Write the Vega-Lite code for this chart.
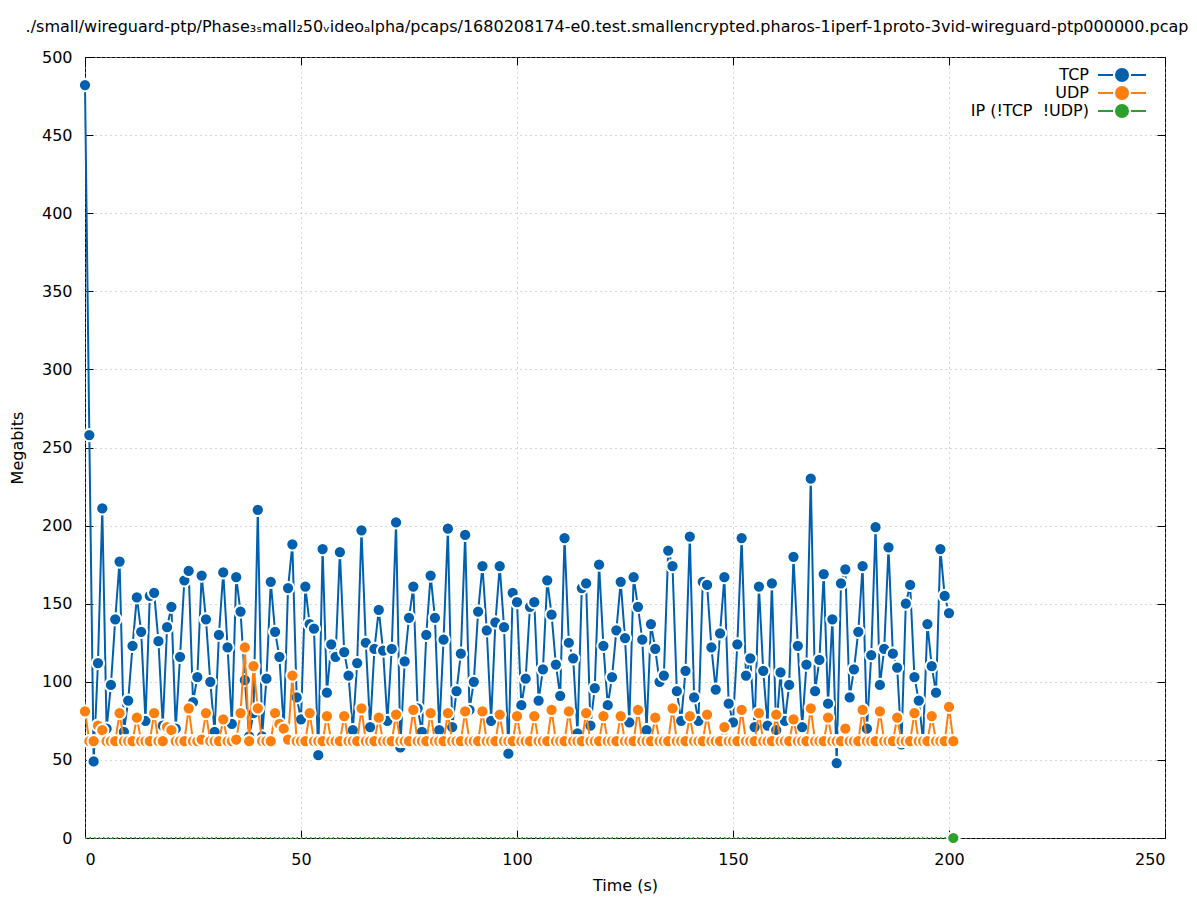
{
  "$schema": "https://vega.github.io/schema/vega-lite/v6.json",
  "width": 1080,
  "height": 781,
  "autosize": {"type": "none"},
  "padding": {"left": 85, "top": 57, "right": 32, "bottom": 62},
  "background": "white",
  "title": {
    "text": "./small/wireguard-ptp/Phase₃ₛmall₂50ᵥideoₐlpha/pcaps/1680208174-e0.test.smallencrypted.pharos-1iperf-1proto-3vid-wireguard-ptp000000.pcap",
    "font": "DejaVu Sans", "fontSize": 16, "fontWeight": "normal", "color": "black",
    "anchor": "middle", "frame": "group", "baseline": "alphabetic", "offset": 1, "dx": -18
  },
  "datasets": {
    "tcp": [
      {"t":0,"v":482},{"t":1,"v":258},{"t":2,"v":49},{"t":3,"v":112},{"t":4,"v":211},{"t":5,"v":70},{"t":6,"v":98},{"t":7,"v":140},{"t":8,"v":177},{"t":9,"v":68},
      {"t":10,"v":88},{"t":11,"v":123},{"t":12,"v":154},{"t":13,"v":132},{"t":14,"v":75},{"t":15,"v":155},{"t":16,"v":157},{"t":17,"v":126},{"t":18,"v":72},{"t":19,"v":135},
      {"t":20,"v":148},{"t":21,"v":70},{"t":22,"v":116},{"t":23,"v":165},{"t":24,"v":171},{"t":25,"v":87},{"t":26,"v":103},{"t":27,"v":168},{"t":28,"v":140},{"t":29,"v":100},
      {"t":30,"v":68},{"t":31,"v":130},{"t":32,"v":170},{"t":33,"v":122},{"t":34,"v":73},{"t":35,"v":167},{"t":36,"v":145},{"t":37,"v":101},{"t":38,"v":65},{"t":39,"v":80},
      {"t":40,"v":210},{"t":41,"v":65},{"t":42,"v":102},{"t":43,"v":164},{"t":44,"v":132},{"t":45,"v":116},{"t":46,"v":70},{"t":47,"v":160},{"t":48,"v":188},{"t":49,"v":90},
      {"t":50,"v":76},{"t":51,"v":161},{"t":52,"v":137},{"t":53,"v":134},{"t":54,"v":53},{"t":55,"v":185},{"t":56,"v":93},{"t":57,"v":124},{"t":58,"v":116},{"t":59,"v":183},
      {"t":60,"v":119},{"t":61,"v":104},{"t":62,"v":69},{"t":63,"v":112},{"t":64,"v":197},{"t":65,"v":125},{"t":66,"v":71},{"t":67,"v":121},{"t":68,"v":146},{"t":69,"v":120},
      {"t":70,"v":75},{"t":71,"v":121},{"t":72,"v":202},{"t":73,"v":58},{"t":74,"v":113},{"t":75,"v":141},{"t":76,"v":161},{"t":77,"v":83},{"t":78,"v":68},{"t":79,"v":130},
      {"t":80,"v":168},{"t":81,"v":141},{"t":82,"v":69},{"t":83,"v":127},{"t":84,"v":198},{"t":85,"v":71},{"t":86,"v":94},{"t":87,"v":118},{"t":88,"v":194},{"t":89,"v":82},
      {"t":90,"v":100},{"t":91,"v":145},{"t":92,"v":174},{"t":93,"v":133},{"t":94,"v":75},{"t":95,"v":138},{"t":96,"v":174},{"t":97,"v":135},{"t":98,"v":54},{"t":99,"v":157},
      {"t":100,"v":151},{"t":101,"v":85},{"t":102,"v":102},{"t":103,"v":148},{"t":104,"v":151},{"t":105,"v":88},{"t":106,"v":108},{"t":107,"v":165},{"t":108,"v":143},{"t":109,"v":111},
      {"t":110,"v":91},{"t":111,"v":192},{"t":112,"v":125},{"t":113,"v":115},{"t":114,"v":67},{"t":115,"v":160},{"t":116,"v":163},{"t":117,"v":72},{"t":118,"v":96},{"t":119,"v":175},
      {"t":120,"v":123},{"t":121,"v":85},{"t":122,"v":103},{"t":123,"v":133},{"t":124,"v":164},{"t":125,"v":128},{"t":126,"v":74},{"t":127,"v":167},{"t":128,"v":148},{"t":129,"v":127},
      {"t":130,"v":69},{"t":131,"v":137},{"t":132,"v":121},{"t":133,"v":100},{"t":134,"v":104},{"t":135,"v":184},{"t":136,"v":174},{"t":137,"v":94},{"t":138,"v":75},{"t":139,"v":107},
      {"t":140,"v":193},{"t":141,"v":90},{"t":142,"v":75},{"t":143,"v":164},{"t":144,"v":162},{"t":145,"v":122},{"t":146,"v":95},{"t":147,"v":131},{"t":148,"v":167},{"t":149,"v":86},
      {"t":150,"v":74},{"t":151,"v":124},{"t":152,"v":192},{"t":153,"v":104},{"t":154,"v":115},{"t":155,"v":71},{"t":156,"v":161},{"t":157,"v":107},{"t":158,"v":72},{"t":159,"v":163},
      {"t":160,"v":69},{"t":161,"v":106},{"t":162,"v":75},{"t":163,"v":98},{"t":164,"v":180},{"t":165,"v":123},{"t":166,"v":71},{"t":167,"v":111},{"t":168,"v":230},{"t":169,"v":94},
      {"t":170,"v":114},{"t":171,"v":169},{"t":172,"v":86},{"t":173,"v":140},{"t":174,"v":48},{"t":175,"v":163},{"t":176,"v":172},{"t":177,"v":90},{"t":178,"v":108},{"t":179,"v":132},
      {"t":180,"v":174},{"t":181,"v":70},{"t":182,"v":117},{"t":183,"v":199},{"t":184,"v":98},{"t":185,"v":121},{"t":186,"v":186},{"t":187,"v":118},{"t":188,"v":109},{"t":189,"v":60},
      {"t":190,"v":150},{"t":191,"v":162},{"t":192,"v":103},{"t":193,"v":88},{"t":194,"v":62},{"t":195,"v":137},{"t":196,"v":110},{"t":197,"v":93},{"t":198,"v":185},{"t":199,"v":155},
      {"t":200,"v":144}
    ],
    "udp": [
      {"t":0,"v":81},{"t":1,"v":62},{"t":2,"v":62},{"t":3,"v":72},{"t":4,"v":69},{"t":5,"v":62},{"t":6,"v":62},{"t":7,"v":62},{"t":8,"v":80},{"t":9,"v":62},
      {"t":10,"v":62},{"t":11,"v":62},{"t":12,"v":77},{"t":13,"v":62},{"t":14,"v":62},{"t":15,"v":62},{"t":16,"v":80},{"t":17,"v":62},{"t":18,"v":62},{"t":19,"v":71},
      {"t":20,"v":69},{"t":21,"v":62},{"t":22,"v":62},{"t":23,"v":62},{"t":24,"v":83},{"t":25,"v":62},{"t":26,"v":62},{"t":27,"v":63},{"t":28,"v":80},{"t":29,"v":62},
      {"t":30,"v":62},{"t":31,"v":62},{"t":32,"v":76},{"t":33,"v":62},{"t":34,"v":62},{"t":35,"v":63},{"t":36,"v":80},{"t":37,"v":122},{"t":38,"v":62},{"t":39,"v":110},
      {"t":40,"v":83},{"t":41,"v":62},{"t":42,"v":62},{"t":43,"v":62},{"t":44,"v":80},{"t":45,"v":73},{"t":46,"v":70},{"t":47,"v":63},{"t":48,"v":104},{"t":49,"v":62},
      {"t":50,"v":62},{"t":51,"v":62},{"t":52,"v":80},{"t":53,"v":62},{"t":54,"v":62},{"t":55,"v":62},{"t":56,"v":78},{"t":57,"v":62},{"t":58,"v":62},{"t":59,"v":62},
      {"t":60,"v":78},{"t":61,"v":62},{"t":62,"v":62},{"t":63,"v":62},{"t":64,"v":83},{"t":65,"v":62},{"t":66,"v":62},{"t":67,"v":62},{"t":68,"v":77},{"t":69,"v":62},
      {"t":70,"v":62},{"t":71,"v":62},{"t":72,"v":79},{"t":73,"v":62},{"t":74,"v":62},{"t":75,"v":62},{"t":76,"v":82},{"t":77,"v":62},{"t":78,"v":62},{"t":79,"v":62},
      {"t":80,"v":80},{"t":81,"v":62},{"t":82,"v":62},{"t":83,"v":62},{"t":84,"v":80},{"t":85,"v":62},{"t":86,"v":62},{"t":87,"v":62},{"t":88,"v":81},{"t":89,"v":62},
      {"t":90,"v":62},{"t":91,"v":62},{"t":92,"v":81},{"t":93,"v":62},{"t":94,"v":62},{"t":95,"v":62},{"t":96,"v":79},{"t":97,"v":62},{"t":98,"v":62},{"t":99,"v":62},
      {"t":100,"v":78},{"t":101,"v":62},{"t":102,"v":62},{"t":103,"v":62},{"t":104,"v":78},{"t":105,"v":62},{"t":106,"v":62},{"t":107,"v":62},{"t":108,"v":82},{"t":109,"v":62},
      {"t":110,"v":62},{"t":111,"v":62},{"t":112,"v":81},{"t":113,"v":62},{"t":114,"v":62},{"t":115,"v":62},{"t":116,"v":80},{"t":117,"v":62},{"t":118,"v":62},{"t":119,"v":62},
      {"t":120,"v":78},{"t":121,"v":62},{"t":122,"v":62},{"t":123,"v":62},{"t":124,"v":78},{"t":125,"v":62},{"t":126,"v":62},{"t":127,"v":62},{"t":128,"v":82},{"t":129,"v":62},
      {"t":130,"v":62},{"t":131,"v":62},{"t":132,"v":77},{"t":133,"v":62},{"t":134,"v":62},{"t":135,"v":62},{"t":136,"v":83},{"t":137,"v":62},{"t":138,"v":62},{"t":139,"v":62},
      {"t":140,"v":78},{"t":141,"v":62},{"t":142,"v":62},{"t":143,"v":62},{"t":144,"v":79},{"t":145,"v":62},{"t":146,"v":62},{"t":147,"v":62},{"t":148,"v":71},{"t":149,"v":62},
      {"t":150,"v":62},{"t":151,"v":62},{"t":152,"v":82},{"t":153,"v":62},{"t":154,"v":62},{"t":155,"v":62},{"t":156,"v":80},{"t":157,"v":62},{"t":158,"v":62},{"t":159,"v":62},
      {"t":160,"v":79},{"t":161,"v":62},{"t":162,"v":62},{"t":163,"v":62},{"t":164,"v":76},{"t":165,"v":62},{"t":166,"v":62},{"t":167,"v":62},{"t":168,"v":83},{"t":169,"v":62},
      {"t":170,"v":62},{"t":171,"v":62},{"t":172,"v":77},{"t":173,"v":62},{"t":174,"v":62},{"t":175,"v":62},{"t":176,"v":70},{"t":177,"v":62},{"t":178,"v":62},{"t":179,"v":62},
      {"t":180,"v":82},{"t":181,"v":62},{"t":182,"v":62},{"t":183,"v":62},{"t":184,"v":81},{"t":185,"v":62},{"t":186,"v":62},{"t":187,"v":62},{"t":188,"v":77},{"t":189,"v":62},
      {"t":190,"v":62},{"t":191,"v":62},{"t":192,"v":80},{"t":193,"v":62},{"t":194,"v":62},{"t":195,"v":62},{"t":196,"v":78},{"t":197,"v":62},{"t":198,"v":62},{"t":199,"v":62},
      {"t":200,"v":84},{"t":201,"v":62}
    ],
    "ipline": [
      {"t":0,"v":0},{"t":201,"v":0}
    ],
    "ip": [
      {"t":201,"v":0}
    ]
  },
  "encoding": {
    "x": {"field": "t", "type": "quantitative", "scale": {"domain": [0, 250], "nice": false, "zero": false}, "axis": null},
    "y": {"field": "v", "type": "quantitative", "scale": {"domain": [0, 500], "nice": false}, "axis": null},
    "color": {
      "datum": "TCP", "type": "nominal",
      "scale": {"domain": ["TCP", "UDP", "IP (!TCP \u00a0!UDP)"], "range": ["#0060ad", "#ff7f0e", "#2ca02c"]},
      "legend": {
        "title": null, "orient": "none", "legendX": 1029, "legendY": 10, "padding": 0,
        "labelAlign": "right", "labelOffset": -41, "labelFont": "DejaVu Sans", "labelFontSize": 16, "labelColor": "black",
        "symbolType": "M-4,0H-1.5M1.5,0H4M-1,0A1,1,0,1,1,1,0A1,1,0,1,1,-1,0Z",
        "symbolSize": 144, "symbolStrokeWidth": 2, "rowPadding": -2,
        "encode": {"symbols": {"update": {"fill": {"scale": "color", "field": "value"}, "stroke": {"scale": "color", "field": "value"}, "opacity": {"value": 1}}}}
      }
    }
  },
  "layer": [
    {
      "data": {"name": "tcp"},
      "mark": {"type": "line", "strokeWidth": 2},
      "encoding": {
        "x": {"field": "t", "type": "quantitative", "title": "Time (s)",
          "axis": {"orient": "bottom", "values": [0, 50, 100, 150, 200, 250], "grid": true, "gridColor": "#b0b0b0", "gridDash": [1, 4], "gridWidth": 1,
            "domain": false, "tickSize": -8, "tickColor": "black", "labelPadding": 21, "labelFont": "DejaVu Sans", "labelFontSize": 16, "labelColor": "black",
            "titleFont": "DejaVu Sans", "titleFontSize": 16, "titleFontWeight": "normal", "titleColor": "black", "titlePadding": 10}},
        "y": {"field": "v", "type": "quantitative", "title": "Megabits",
          "axis": {"orient": "left", "values": [0, 50, 100, 150, 200, 250, 300, 350, 400, 450, 500], "grid": true, "gridColor": "#b0b0b0", "gridDash": [1, 4], "gridWidth": 1,
            "domain": false, "tickSize": -8, "tickColor": "black", "labelPadding": 21, "labelFont": "DejaVu Sans", "labelFontSize": 16, "labelColor": "black",
            "titleFont": "DejaVu Sans", "titleFontSize": 16, "titleFontWeight": "normal", "titleColor": "black", "titlePadding": 16}}
      }
    },
    {
      "data": {"name": "tcp"},
      "mark": {"type": "point", "filled": true, "size": 150, "stroke": "white", "strokeWidth": 2, "opacity": 1},
      "encoding": {}
    },
    {
      "data": {"name": "udp"},
      "mark": {"type": "line", "strokeWidth": 2},
      "encoding": {"color": {"datum": "UDP", "type": "nominal"}}
    },
    {
      "data": {"name": "udp"},
      "mark": {"type": "point", "filled": true, "size": 150, "stroke": "white", "strokeWidth": 2, "opacity": 1},
      "encoding": {"color": {"datum": "UDP", "type": "nominal"}}
    },
    {
      "data": {"name": "ipline"},
      "mark": {"type": "line", "strokeWidth": 2, "strokeDash": [1.5, 3]},
      "encoding": {"color": {"datum": "IP (!TCP \u00a0!UDP)", "type": "nominal"}}
    },
    {
      "data": {"name": "ip"},
      "mark": {"type": "point", "filled": true, "size": 150, "stroke": "white", "strokeWidth": 2, "opacity": 1},
      "encoding": {"color": {"datum": "IP (!TCP \u00a0!UDP)", "type": "nominal"}}
    },
    {
      "data": {"name": "ip"},
      "mark": {"type": "point", "opacity": 0},
      "encoding": {
        "x": {"field": "t", "type": "quantitative",
          "axis": {"orient": "top", "values": [0, 50, 100, 150, 200, 250], "grid": false, "labels": false, "domain": false, "tickSize": -8, "tickColor": "black", "title": null}},
        "y": {"field": "v", "type": "quantitative",
          "axis": {"orient": "right", "values": [0, 50, 100, 150, 200, 250, 300, 350, 400, 450, 500], "grid": false, "labels": false, "domain": false, "tickSize": -8, "tickColor": "black", "title": null}}
      }
    }
  ],
  "resolve": {"axis": {"x": "independent", "y": "independent"}},
  "config": {
    "view": {"stroke": "black", "strokeWidth": 1},
    "font": "DejaVu Sans"
  }
}
